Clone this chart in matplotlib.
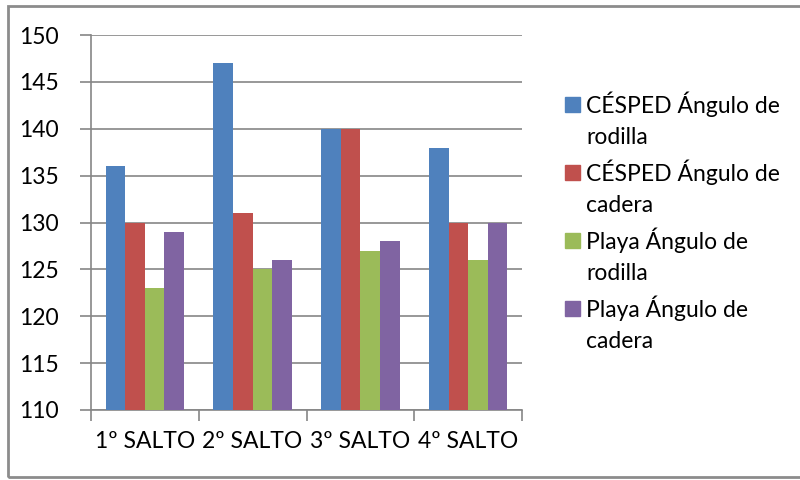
import numpy as np
import matplotlib
matplotlib.use("Agg")
import matplotlib.pyplot as plt
from matplotlib.patches import Rectangle

plt.rcParams['font.family'] = ['Lato', 'DejaVu Sans']

# data
categories = ['1º SALTO', '2º SALTO', '3º SALTO', '4º SALTO']
series_names = ['CÉSPED Ángulo de\nrodilla', 'CÉSPED Ángulo de\ncadera',
                'Playa Ángulo de\nrodilla', 'Playa Ángulo de\ncadera']
cesped_rodilla = [136, 147, 140, 138]
cesped_cadera = [130, 131, 140, 130]
playa_rodilla = [123, 125, 127, 126]
playa_cadera = [129, 126, 128, 130]
y_ticks = [110, 115, 120, 125, 130, 135, 140, 145, 150]

colors = ['#4F81BD', '#C0504D', '#9BBB59', '#8064A2']
grid_col = '#868686'
fs = 16.5

fig = plt.figure(figsize=(8, 4.8), dpi=100)
ax = fig.add_axes([91 / 800, 1 - 410 / 480, 431 / 800, 375 / 480])

series = [cesped_rodilla, cesped_cadera, playa_rodilla, playa_cadera]
x = np.arange(len(categories))
bw = 1 / (4 + 1.5)  # Excel default gap width 150%
for i, (vals, name) in enumerate(zip(series, series_names)):
    ax.bar(x + (i - 1.5) * bw, np.array(vals) - 110, bottom=110, width=bw,
           color=colors[i], label=name, zorder=3)

ax.set_xlim(-0.5, len(categories) - 0.5)
ax.set_ylim(110, 150)
ax.set_yticks(y_ticks)
ax.tick_params(axis='y', length=8, width=1.2, color=grid_col, pad=15, labelsize=fs)
ax.yaxis.grid(True, color=grid_col, linewidth=1.2, zorder=0)

# category boundary ticks on x axis, labels centered on groups
ax.set_xticks(np.arange(len(categories) + 1) - 0.5)
ax.set_xticklabels([])
ax.set_xticks(x, minor=True)
ax.set_xticklabels(categories, minor=True)
ax.tick_params(axis='x', which='major', length=8, width=1.2, color=grid_col, direction='out')
ax.tick_params(axis='x', which='minor', length=0, pad=15, labelsize=fs)

for s in ['top', 'right']:
    ax.spines[s].set_visible(False)
for s in ['left', 'bottom']:
    ax.spines[s].set_color(grid_col)
    ax.spines[s].set_linewidth(1.2)

# legend drawn by hand so the swatch sits on the first line (Excel style)
for i, name in enumerate(series_names):
    y0 = 104 + i * 68  # pixel row of first line
    fig.patches.append(Rectangle((565 / 800, 1 - (y0 + 8) / 480), 15 / 800, 15 / 480,
                                 transform=fig.transFigure, color=colors[i]))
    for j, line in enumerate(name.split('\n')):
        fig.text(586 / 800, 1 - (y0 + j * 34) / 480, line, fontsize=fs,
                 va='center', ha='left')

# outer chart border
fig.patches.append(Rectangle((8 / 800, 1 - 477 / 480), 800 / 800, 471 / 480,
                             transform=fig.transFigure, fill=False,
                             edgecolor='#8c8c8c', linewidth=2))

fig.savefig('out.png', dpi=100)
